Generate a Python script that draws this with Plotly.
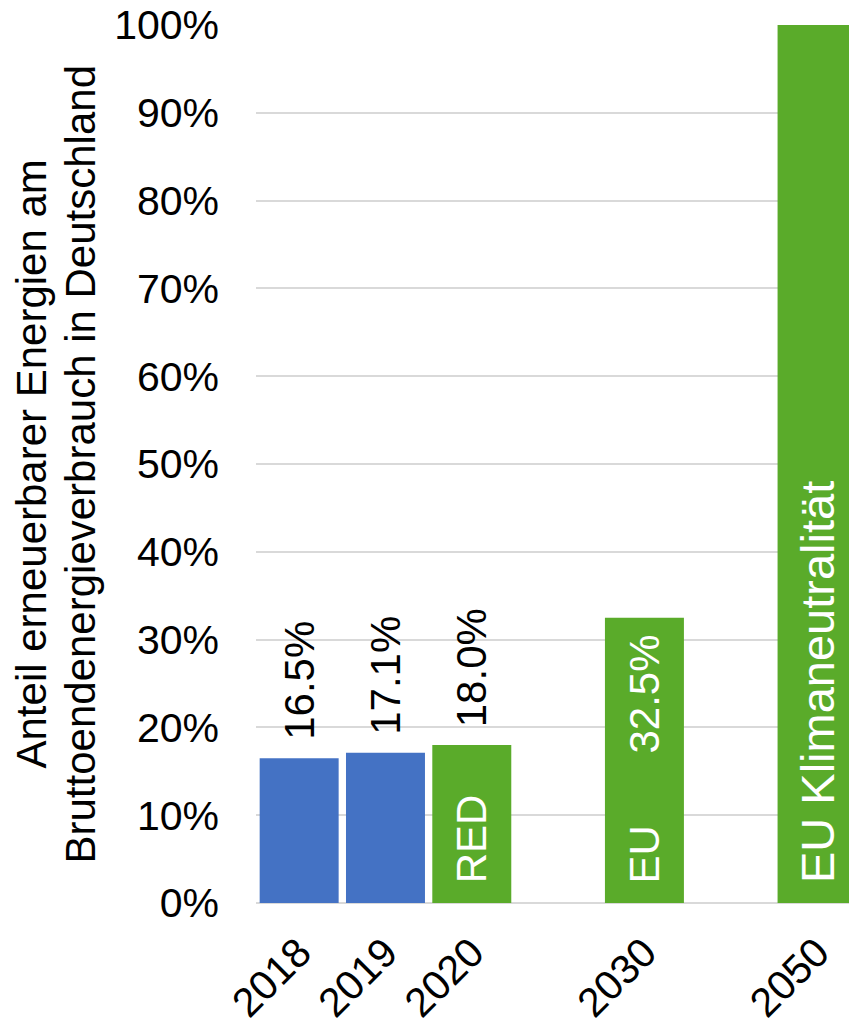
import plotly.graph_objects as go

# Data
categories = ["2018", "2019", "2020", "gap1", "2030", "gap2", "2050"]
bar_years = ["2018", "2019", "2020", "2030", "2050"]
bar_values = [16.5, 17.1, 18.0, 32.5, 100.0]
value_labels = ["16.5%", "17.1%", "18.0%", "32.5%", ""]
inner_labels = ["", "", "RED", "EU", "EU Klimaneutralität"]
bar_colors = ["#4472C4", "#4472C4", "#5AAB2A", "#5AAB2A", "#5AAB2A"]
y_ticks = [0, 10, 20, 30, 40, 50, 60, 70, 80, 90, 100]
y_tick_labels = [f"{v}%" for v in y_ticks]
title_lines = ["Anteil erneuerbarer Energien am", "Bruttoendenergieverbrauch in Deutschland"]

FONT = "Liberation Sans, Arial, sans-serif"
W, H = 849, 1025
ML, MT, MB = 256, 25, 122

fig = go.Figure()
fig.add_trace(go.Bar(
    x=bar_years, y=bar_values,
    marker=dict(color=bar_colors, line=dict(width=0)),
    hoverinfo="skip",
))

ann = []
for yr, v, lab, inner in zip(bar_years, bar_values, value_labels, inner_labels):
    xi = categories.index(yr)
    if lab:
        if v > 30:
            ann.append(dict(x=xi, y=v, xref="x", yref="y", text=lab, textangle=-90,
                            showarrow=False, yanchor="top", yshift=-15,
                            font=dict(family=FONT, size=42, color="white")))
        else:
            ann.append(dict(x=xi, y=v, xref="x", yref="y", text=lab, textangle=-90,
                            showarrow=False, yanchor="bottom", yshift=16,
                            font=dict(family=FONT, size=42, color="black")))
    if inner:
        size = 47 if len(inner) > 10 else 42
        ann.append(dict(x=xi, y=0, xref="x", yref="y", text=inner, textangle=-90,
                        showarrow=False, yanchor="bottom", yshift=18,
                        font=dict(family=FONT, size=size, color="white")))

plot_w = W - ML
for cx, line in zip([30.5, 79.5], title_lines):
    ann.append(dict(x=(cx - ML) / plot_w, y=0.5, xref="paper", yref="paper",
                    text=line, textangle=-90, showarrow=False,
                    xanchor="center", yanchor="middle",
                    font=dict(family=FONT, size=42, color="black")))

fig.update_layout(
    width=W, height=H,
    margin=dict(l=ML, r=0, t=MT, b=MB),
    paper_bgcolor="white", plot_bgcolor="white",
    bargap=0.085,
    showlegend=False,
    annotations=ann,
    font=dict(family=FONT, size=41, color="black"),
    xaxis=dict(
        type="category", categoryorder="array", categoryarray=categories,
        range=[-0.5, 6.37],
        tickvals=bar_years, ticktext=bar_years,
        tickangle=-45, tickfont=dict(family=FONT, size=41, color="black"),
        showgrid=False, showline=False, ticks="", zeroline=False,
        ticklabelstandoff=16,
    ),
    yaxis=dict(
        range=[0, 100], tickvals=y_ticks, ticktext=y_tick_labels,
        tickfont=dict(family=FONT, size=41, color="black"),
        showgrid=True, gridcolor="#D9D9D9", gridwidth=1.5,
        zeroline=True, zerolinecolor="#D9D9D9", zerolinewidth=1.5,
        showline=False, ticks="", ticklabelstandoff=36,
    ),
)

fig.write_html("out.html")
